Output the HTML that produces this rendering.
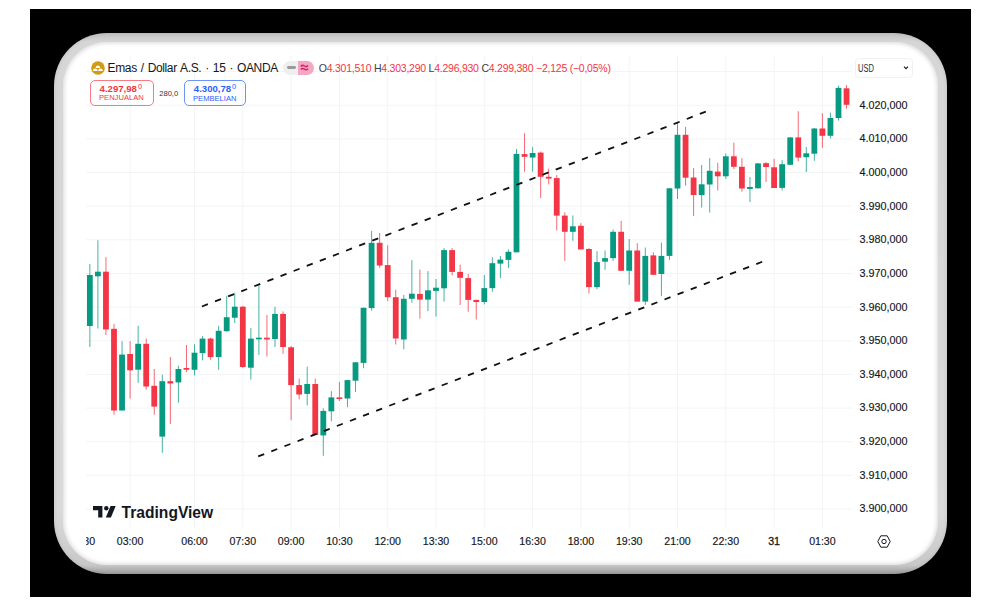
<!DOCTYPE html>
<html><head><meta charset="utf-8"><title>Emas / Dollar A.S.</title><style>
html,body{margin:0;padding:0;width:1000px;height:606px;overflow:hidden;background:#fff;font-family:"Liberation Sans",sans-serif;}
#blk{position:absolute;left:30px;top:9px;width:941px;height:588px;background:#000;}
#frame{position:absolute;left:54px;top:33px;width:893px;height:541px;border-radius:53px;background:linear-gradient(180deg,#c2c2c2 0px,#d6d6d6 9px,#dadada 480px,#c8c8c8 532px,#9c9c9c 541px);box-shadow:inset 0 0 4px rgba(0,0,0,0.10);}
#inner{position:absolute;left:9px;top:9px;width:875px;height:523px;border-radius:44px;background:#fff;box-shadow:inset 0 0 4px 1px rgba(216,216,216,1);}
#chart{position:absolute;left:0;top:0;}
.leg{position:absolute;white-space:nowrap;}
</style></head><body>
<div id="blk"></div>
<div id="frame"><div id="inner"></div></div>
<div id="chart"><svg width="1000" height="606" viewBox="0 0 1000 606" font-family="Liberation Sans, sans-serif">
<defs><clipPath id="tclip"><rect x="86.2" y="520" width="780" height="40"/></clipPath></defs>
<g stroke="#f3f4f6" stroke-width="1"><line x1="130.10" y1="55.6" x2="130.10" y2="529"/><line x1="194.50" y1="55.6" x2="194.50" y2="529"/><line x1="242.80" y1="55.6" x2="242.80" y2="529"/><line x1="291.10" y1="55.6" x2="291.10" y2="529"/><line x1="339.40" y1="55.6" x2="339.40" y2="529"/><line x1="387.70" y1="55.6" x2="387.70" y2="529"/><line x1="436.00" y1="55.6" x2="436.00" y2="529"/><line x1="484.30" y1="55.6" x2="484.30" y2="529"/><line x1="532.60" y1="55.6" x2="532.60" y2="529"/><line x1="580.90" y1="55.6" x2="580.90" y2="529"/><line x1="629.20" y1="55.6" x2="629.20" y2="529"/><line x1="677.50" y1="55.6" x2="677.50" y2="529"/><line x1="725.80" y1="55.6" x2="725.80" y2="529"/><line x1="774.10" y1="55.6" x2="774.10" y2="529"/><line x1="822.40" y1="55.6" x2="822.40" y2="529"/><line x1="86" y1="71.55" x2="852" y2="71.55"/><line x1="86" y1="105.20" x2="852" y2="105.20"/><line x1="86" y1="138.85" x2="852" y2="138.85"/><line x1="86" y1="172.50" x2="852" y2="172.50"/><line x1="86" y1="206.15" x2="852" y2="206.15"/><line x1="86" y1="239.80" x2="852" y2="239.80"/><line x1="86" y1="273.45" x2="852" y2="273.45"/><line x1="86" y1="307.10" x2="852" y2="307.10"/><line x1="86" y1="340.75" x2="852" y2="340.75"/><line x1="86" y1="374.40" x2="852" y2="374.40"/><line x1="86" y1="408.05" x2="852" y2="408.05"/><line x1="86" y1="441.70" x2="852" y2="441.70"/><line x1="86" y1="475.35" x2="852" y2="475.35"/><line x1="86" y1="509.00" x2="852" y2="509.00"/></g><g><rect x="89.35" y="264.00" width="1" height="83.00" fill="#089981" opacity="0.75"/><rect x="86.95" y="275.00" width="5.8" height="51.00" fill="#089981"/><rect x="97.40" y="240.30" width="1" height="88.20" fill="#089981" opacity="0.75"/><rect x="95.00" y="271.70" width="5.8" height="4.60" fill="#089981"/><rect x="105.45" y="257.20" width="1" height="77.80" fill="#f23645" opacity="0.75"/><rect x="103.05" y="271.70" width="5.8" height="57.80" fill="#f23645"/><rect x="113.50" y="324.00" width="1" height="90.70" fill="#f23645" opacity="0.75"/><rect x="111.10" y="328.80" width="5.8" height="81.70" fill="#f23645"/><rect x="121.55" y="341.20" width="1" height="69.30" fill="#089981" opacity="0.75"/><rect x="119.15" y="354.60" width="5.8" height="55.90" fill="#089981"/><rect x="129.60" y="341.20" width="1" height="57.30" fill="#f23645" opacity="0.75"/><rect x="127.20" y="354.00" width="5.8" height="16.30" fill="#f23645"/><rect x="137.65" y="325.80" width="1" height="57.00" fill="#089981" opacity="0.75"/><rect x="135.25" y="343.80" width="5.8" height="25.90" fill="#089981"/><rect x="145.70" y="338.50" width="1" height="51.20" fill="#f23645" opacity="0.75"/><rect x="143.30" y="343.80" width="5.8" height="42.70" fill="#f23645"/><rect x="153.75" y="369.00" width="1" height="45.70" fill="#f23645" opacity="0.75"/><rect x="151.35" y="385.80" width="5.8" height="20.80" fill="#f23645"/><rect x="161.80" y="374.70" width="1" height="78.10" fill="#089981" opacity="0.75"/><rect x="159.40" y="381.20" width="5.8" height="55.40" fill="#089981"/><rect x="169.85" y="357.00" width="1" height="67.00" fill="#f23645" opacity="0.75"/><rect x="167.45" y="381.20" width="5.8" height="2.30" fill="#f23645"/><rect x="177.90" y="365.70" width="1" height="37.00" fill="#089981" opacity="0.75"/><rect x="175.50" y="369.00" width="5.8" height="13.40" fill="#089981"/><rect x="185.95" y="345.00" width="1" height="27.00" fill="#f23645" opacity="0.75"/><rect x="183.55" y="368.00" width="5.8" height="1.70" fill="#f23645"/><rect x="194.00" y="344.30" width="1" height="31.00" fill="#089981" opacity="0.75"/><rect x="191.60" y="352.70" width="5.8" height="17.10" fill="#089981"/><rect x="202.05" y="336.20" width="1" height="24.20" fill="#089981" opacity="0.75"/><rect x="199.65" y="338.60" width="5.8" height="14.50" fill="#089981"/><rect x="210.10" y="337.50" width="1" height="22.30" fill="#f23645" opacity="0.75"/><rect x="207.70" y="338.60" width="5.8" height="18.50" fill="#f23645"/><rect x="218.15" y="325.90" width="1" height="43.90" fill="#089981" opacity="0.75"/><rect x="215.75" y="330.80" width="5.8" height="26.30" fill="#089981"/><rect x="226.20" y="295.80" width="1" height="35.90" fill="#089981" opacity="0.75"/><rect x="223.80" y="317.20" width="5.8" height="14.00" fill="#089981"/><rect x="234.25" y="292.70" width="1" height="30.30" fill="#089981" opacity="0.75"/><rect x="231.85" y="306.70" width="5.8" height="11.00" fill="#089981"/><rect x="242.30" y="306.00" width="1" height="62.00" fill="#f23645" opacity="0.75"/><rect x="239.90" y="306.70" width="5.8" height="60.30" fill="#f23645"/><rect x="250.35" y="328.10" width="1" height="51.50" fill="#089981" opacity="0.75"/><rect x="247.95" y="338.60" width="5.8" height="29.10" fill="#089981"/><rect x="258.40" y="284.50" width="1" height="70.40" fill="#089981" opacity="0.75"/><rect x="256.00" y="337.70" width="5.8" height="1.60" fill="#089981"/><rect x="266.45" y="315.00" width="1" height="41.50" fill="#f23645" opacity="0.75"/><rect x="264.05" y="337.70" width="5.8" height="1.80" fill="#f23645"/><rect x="274.50" y="306.70" width="1" height="40.30" fill="#089981" opacity="0.75"/><rect x="272.10" y="313.90" width="5.8" height="25.10" fill="#089981"/><rect x="282.55" y="311.40" width="1" height="42.50" fill="#f23645" opacity="0.75"/><rect x="280.15" y="313.90" width="5.8" height="33.10" fill="#f23645"/><rect x="290.60" y="346.00" width="1" height="74.20" fill="#f23645" opacity="0.75"/><rect x="288.20" y="347.30" width="5.8" height="37.80" fill="#f23645"/><rect x="298.65" y="378.60" width="1" height="20.80" fill="#f23645" opacity="0.75"/><rect x="296.25" y="385.10" width="5.8" height="9.40" fill="#f23645"/><rect x="306.70" y="366.70" width="1" height="38.60" fill="#089981" opacity="0.75"/><rect x="304.30" y="384.00" width="5.8" height="9.90" fill="#089981"/><rect x="314.75" y="378.60" width="1" height="56.40" fill="#f23645" opacity="0.75"/><rect x="312.35" y="384.00" width="5.8" height="51.00" fill="#f23645"/><rect x="322.80" y="408.30" width="1" height="47.50" fill="#089981" opacity="0.75"/><rect x="320.40" y="410.90" width="5.8" height="24.50" fill="#089981"/><rect x="330.85" y="391.10" width="1" height="30.10" fill="#089981" opacity="0.75"/><rect x="328.45" y="397.40" width="5.8" height="13.90" fill="#089981"/><rect x="338.90" y="382.00" width="1" height="19.00" fill="#f23645" opacity="0.75"/><rect x="336.50" y="397.40" width="5.8" height="1.60" fill="#f23645"/><rect x="346.95" y="380.00" width="1" height="27.20" fill="#089981" opacity="0.75"/><rect x="344.55" y="380.10" width="5.8" height="18.40" fill="#089981"/><rect x="355.00" y="362.00" width="1" height="30.00" fill="#089981" opacity="0.75"/><rect x="352.60" y="362.30" width="5.8" height="18.40" fill="#089981"/><rect x="363.05" y="307.50" width="1" height="60.70" fill="#089981" opacity="0.75"/><rect x="360.65" y="307.80" width="5.8" height="55.10" fill="#089981"/><rect x="371.10" y="230.90" width="1" height="79.80" fill="#089981" opacity="0.75"/><rect x="368.70" y="242.80" width="5.8" height="65.30" fill="#089981"/><rect x="379.15" y="232.90" width="1" height="35.00" fill="#f23645" opacity="0.75"/><rect x="376.75" y="242.80" width="5.8" height="22.70" fill="#f23645"/><rect x="387.20" y="245.30" width="1" height="55.90" fill="#f23645" opacity="0.75"/><rect x="384.80" y="265.10" width="5.8" height="32.10" fill="#f23645"/><rect x="395.25" y="289.70" width="1" height="54.80" fill="#f23645" opacity="0.75"/><rect x="392.85" y="297.20" width="5.8" height="41.30" fill="#f23645"/><rect x="403.30" y="294.90" width="1" height="54.50" fill="#089981" opacity="0.75"/><rect x="400.90" y="298.80" width="5.8" height="40.70" fill="#089981"/><rect x="411.35" y="260.20" width="1" height="42.60" fill="#089981" opacity="0.75"/><rect x="408.95" y="293.70" width="5.8" height="5.10" fill="#089981"/><rect x="419.40" y="269.50" width="1" height="49.10" fill="#f23645" opacity="0.75"/><rect x="417.00" y="293.90" width="5.8" height="5.70" fill="#f23645"/><rect x="427.45" y="271.10" width="1" height="40.00" fill="#089981" opacity="0.75"/><rect x="425.05" y="290.30" width="5.8" height="9.30" fill="#089981"/><rect x="435.50" y="279.00" width="1" height="37.60" fill="#089981" opacity="0.75"/><rect x="433.10" y="287.70" width="5.8" height="3.20" fill="#089981"/><rect x="443.55" y="248.10" width="1" height="53.50" fill="#089981" opacity="0.75"/><rect x="441.15" y="250.10" width="5.8" height="38.20" fill="#089981"/><rect x="451.60" y="248.10" width="1" height="27.30" fill="#f23645" opacity="0.75"/><rect x="449.20" y="250.10" width="5.8" height="21.80" fill="#f23645"/><rect x="459.65" y="264.60" width="1" height="40.50" fill="#f23645" opacity="0.75"/><rect x="457.25" y="271.90" width="5.8" height="5.90" fill="#f23645"/><rect x="467.70" y="273.90" width="1" height="37.80" fill="#f23645" opacity="0.75"/><rect x="465.30" y="278.10" width="5.8" height="21.80" fill="#f23645"/><rect x="475.75" y="299.90" width="1" height="19.60" fill="#f23645" opacity="0.75"/><rect x="473.35" y="299.90" width="5.8" height="2.10" fill="#f23645"/><rect x="483.80" y="275.00" width="1" height="29.40" fill="#089981" opacity="0.75"/><rect x="481.40" y="288.10" width="5.8" height="13.90" fill="#089981"/><rect x="491.85" y="257.20" width="1" height="34.50" fill="#089981" opacity="0.75"/><rect x="489.45" y="263.20" width="5.8" height="24.90" fill="#089981"/><rect x="499.90" y="255.90" width="1" height="22.20" fill="#089981" opacity="0.75"/><rect x="497.50" y="259.60" width="5.8" height="4.00" fill="#089981"/><rect x="507.95" y="249.40" width="1" height="18.70" fill="#089981" opacity="0.75"/><rect x="505.55" y="251.80" width="5.8" height="8.10" fill="#089981"/><rect x="516.00" y="149.00" width="1" height="103.30" fill="#089981" opacity="0.75"/><rect x="513.60" y="153.90" width="5.8" height="98.40" fill="#089981"/><rect x="524.05" y="133.20" width="1" height="38.50" fill="#f23645" opacity="0.75"/><rect x="521.65" y="154.10" width="5.8" height="2.70" fill="#f23645"/><rect x="532.10" y="147.20" width="1" height="24.50" fill="#089981" opacity="0.75"/><rect x="529.70" y="153.00" width="5.8" height="4.50" fill="#089981"/><rect x="540.15" y="151.50" width="1" height="46.50" fill="#f23645" opacity="0.75"/><rect x="537.75" y="152.60" width="5.8" height="24.20" fill="#f23645"/><rect x="548.20" y="168.60" width="1" height="15.80" fill="#f23645" opacity="0.75"/><rect x="545.80" y="176.80" width="5.8" height="1.80" fill="#f23645"/><rect x="556.25" y="175.00" width="1" height="55.50" fill="#f23645" opacity="0.75"/><rect x="553.85" y="178.10" width="5.8" height="37.50" fill="#f23645"/><rect x="564.30" y="212.30" width="1" height="48.50" fill="#f23645" opacity="0.75"/><rect x="561.90" y="215.60" width="5.8" height="16.20" fill="#f23645"/><rect x="572.35" y="215.40" width="1" height="25.40" fill="#089981" opacity="0.75"/><rect x="569.95" y="226.30" width="5.8" height="5.50" fill="#089981"/><rect x="580.40" y="223.20" width="1" height="26.20" fill="#f23645" opacity="0.75"/><rect x="578.00" y="225.80" width="5.8" height="23.60" fill="#f23645"/><rect x="588.45" y="248.10" width="1" height="45.40" fill="#f23645" opacity="0.75"/><rect x="586.05" y="249.00" width="5.8" height="38.10" fill="#f23645"/><rect x="596.50" y="251.20" width="1" height="38.10" fill="#089981" opacity="0.75"/><rect x="594.10" y="262.10" width="5.8" height="25.00" fill="#089981"/><rect x="604.55" y="250.50" width="1" height="19.40" fill="#089981" opacity="0.75"/><rect x="602.15" y="258.10" width="5.8" height="3.60" fill="#089981"/><rect x="612.60" y="229.40" width="1" height="31.40" fill="#089981" opacity="0.75"/><rect x="610.20" y="231.80" width="5.8" height="26.30" fill="#089981"/><rect x="620.65" y="220.90" width="1" height="49.90" fill="#f23645" opacity="0.75"/><rect x="618.25" y="231.80" width="5.8" height="39.00" fill="#f23645"/><rect x="628.70" y="239.00" width="1" height="45.90" fill="#089981" opacity="0.75"/><rect x="626.30" y="250.50" width="5.8" height="20.30" fill="#089981"/><rect x="636.75" y="243.20" width="1" height="58.40" fill="#f23645" opacity="0.75"/><rect x="634.35" y="250.50" width="5.8" height="51.10" fill="#f23645"/><rect x="644.80" y="247.50" width="1" height="57.40" fill="#089981" opacity="0.75"/><rect x="642.40" y="255.90" width="5.8" height="45.70" fill="#089981"/><rect x="652.85" y="252.30" width="1" height="22.50" fill="#f23645" opacity="0.75"/><rect x="650.45" y="255.40" width="5.8" height="19.40" fill="#f23645"/><rect x="660.90" y="242.60" width="1" height="53.60" fill="#089981" opacity="0.75"/><rect x="658.50" y="255.90" width="5.8" height="18.10" fill="#089981"/><rect x="668.95" y="188.00" width="1" height="71.90" fill="#089981" opacity="0.75"/><rect x="666.55" y="188.30" width="5.8" height="67.60" fill="#089981"/><rect x="677.00" y="122.10" width="1" height="76.90" fill="#089981" opacity="0.75"/><rect x="674.60" y="134.80" width="5.8" height="53.70" fill="#089981"/><rect x="685.05" y="126.90" width="1" height="58.80" fill="#f23645" opacity="0.75"/><rect x="682.65" y="134.80" width="5.8" height="42.90" fill="#f23645"/><rect x="693.10" y="168.10" width="1" height="48.00" fill="#f23645" opacity="0.75"/><rect x="690.70" y="177.50" width="5.8" height="17.50" fill="#f23645"/><rect x="701.15" y="165.00" width="1" height="42.50" fill="#089981" opacity="0.75"/><rect x="698.75" y="184.30" width="5.8" height="10.70" fill="#089981"/><rect x="709.20" y="158.10" width="1" height="54.40" fill="#089981" opacity="0.75"/><rect x="706.80" y="170.80" width="5.8" height="13.70" fill="#089981"/><rect x="717.25" y="162.70" width="1" height="27.80" fill="#f23645" opacity="0.75"/><rect x="714.85" y="171.60" width="5.8" height="4.70" fill="#f23645"/><rect x="725.30" y="153.50" width="1" height="25.50" fill="#089981" opacity="0.75"/><rect x="722.90" y="156.30" width="5.8" height="20.00" fill="#089981"/><rect x="733.35" y="142.60" width="1" height="26.50" fill="#f23645" opacity="0.75"/><rect x="730.95" y="156.30" width="5.8" height="10.50" fill="#f23645"/><rect x="741.40" y="158.10" width="1" height="33.60" fill="#f23645" opacity="0.75"/><rect x="739.00" y="166.80" width="5.8" height="21.70" fill="#f23645"/><rect x="749.45" y="177.00" width="1" height="25.00" fill="#089981" opacity="0.75"/><rect x="747.05" y="187.00" width="5.8" height="1.90" fill="#089981"/><rect x="757.50" y="163.00" width="1" height="25.30" fill="#089981" opacity="0.75"/><rect x="755.10" y="163.40" width="5.8" height="24.90" fill="#089981"/><rect x="765.55" y="162.00" width="1" height="20.00" fill="#f23645" opacity="0.75"/><rect x="763.15" y="163.20" width="5.8" height="3.80" fill="#f23645"/><rect x="773.60" y="158.80" width="1" height="29.20" fill="#f23645" opacity="0.75"/><rect x="771.20" y="167.30" width="5.8" height="20.70" fill="#f23645"/><rect x="781.65" y="160.20" width="1" height="30.30" fill="#089981" opacity="0.75"/><rect x="779.25" y="164.20" width="5.8" height="23.70" fill="#089981"/><rect x="789.70" y="137.00" width="1" height="28.00" fill="#089981" opacity="0.75"/><rect x="787.30" y="137.40" width="5.8" height="27.40" fill="#089981"/><rect x="797.75" y="111.30" width="1" height="49.90" fill="#f23645" opacity="0.75"/><rect x="795.35" y="137.40" width="5.8" height="20.20" fill="#f23645"/><rect x="805.80" y="146.90" width="1" height="25.20" fill="#089981" opacity="0.75"/><rect x="803.40" y="153.30" width="5.8" height="3.90" fill="#089981"/><rect x="813.85" y="128.00" width="1" height="32.80" fill="#089981" opacity="0.75"/><rect x="811.45" y="128.50" width="5.8" height="25.20" fill="#089981"/><rect x="821.90" y="113.30" width="1" height="34.40" fill="#f23645" opacity="0.75"/><rect x="819.50" y="128.50" width="5.8" height="7.30" fill="#f23645"/><rect x="829.95" y="112.70" width="1" height="25.70" fill="#089981" opacity="0.75"/><rect x="827.55" y="118.00" width="5.8" height="17.80" fill="#089981"/><rect x="838.00" y="85.90" width="1" height="34.70" fill="#089981" opacity="0.75"/><rect x="835.60" y="87.90" width="5.8" height="30.10" fill="#089981"/><rect x="846.05" y="85.00" width="1" height="23.70" fill="#f23645" opacity="0.75"/><rect x="843.65" y="88.30" width="5.8" height="16.50" fill="#f23645"/></g><line x1="201.9" y1="306.5" x2="706.2" y2="111.5" stroke="#111" stroke-width="1.8" stroke-dasharray="6.4 7.65"/><line x1="258.2" y1="456.4" x2="762.6" y2="261.6" stroke="#111" stroke-width="1.8" stroke-dasharray="6.4 7.65"/><g font-size="10.8" fill="#131722" stroke="#131722" stroke-width="0.15"><text x="859.6" y="108.60">4.020,000</text><text x="859.6" y="142.25">4.010,000</text><text x="859.6" y="175.90">4.000,000</text><text x="859.6" y="209.55">3.990,000</text><text x="859.6" y="243.20">3.980,000</text><text x="859.6" y="276.85">3.970,000</text><text x="859.6" y="310.50">3.960,000</text><text x="859.6" y="344.15">3.950,000</text><text x="859.6" y="377.80">3.940,000</text><text x="859.6" y="411.45">3.930,000</text><text x="859.6" y="445.10">3.920,000</text><text x="859.6" y="478.75">3.910,000</text><text x="859.6" y="512.40">3.900,000</text></g><g font-size="10.6" fill="#131722" stroke="#131722" stroke-width="0.15" clip-path="url(#tclip)"><text x="130.10" y="544.8" text-anchor="middle">03:00</text><text x="194.50" y="544.8" text-anchor="middle">06:00</text><text x="242.80" y="544.8" text-anchor="middle">07:30</text><text x="291.10" y="544.8" text-anchor="middle">09:00</text><text x="339.40" y="544.8" text-anchor="middle">10:30</text><text x="387.70" y="544.8" text-anchor="middle">12:00</text><text x="436.00" y="544.8" text-anchor="middle">13:30</text><text x="484.30" y="544.8" text-anchor="middle">15:00</text><text x="532.60" y="544.8" text-anchor="middle">16:30</text><text x="580.90" y="544.8" text-anchor="middle">18:00</text><text x="629.20" y="544.8" text-anchor="middle">19:30</text><text x="677.50" y="544.8" text-anchor="middle">21:00</text><text x="725.80" y="544.8" text-anchor="middle">22:30</text><text x="774.10" y="544.8" text-anchor="middle" stroke="#131722" stroke-width="0.3">31</text><text x="822.40" y="544.8" text-anchor="middle">01:30</text><text x="81.80" y="544.8" text-anchor="middle">01:30</text></g>
</svg></div>
<div id="legend">
 <svg class="leg" style="left:90.8px;top:61px" width="14" height="14" viewBox="0 0 14 14"><circle cx="7" cy="7" r="6.8" fill="#d49a12"/><path d="M4.6 6.9 Q4.6 4.4 6.9 4.4 Q9.2 4.4 9.2 6.9 Z M2 10 Q2 7.4 4.3 7.4 Q6.6 7.4 6.6 10 Z M7.2 10 Q7.2 7.4 9.5 7.4 Q11.8 7.4 11.8 10 Z" fill="#fff"/></svg>
 <div class="leg" style="left:107.6px;top:61.2px;font-size:12px;letter-spacing:-0.37px;word-spacing:1px;color:#131722">Emas / Dollar A.S. · 15 · OANDA</div>
 <div class="leg" style="left:282.8px;top:61px;width:30.8px;height:13.8px;border-radius:7px;background:linear-gradient(90deg,#efefef 50%,#f4a7c3 50%)"></div>
 <div class="leg" style="left:287.4px;top:66.2px;width:8.2px;height:2.8px;border-radius:1.4px;background:#9a9a9a"></div>
 <svg class="leg" style="left:300px;top:63px" width="9" height="9" viewBox="0 0 9 9"><path d="M0.8 3.4 Q2.4 1.6 4.4 3 Q6.4 4.4 8 2.6 M0.8 6.6 Q2.4 4.8 4.4 6.2 Q6.4 7.6 8 5.8" stroke="#e0206b" stroke-width="1.5" fill="none"/></svg>
 <div class="leg" style="left:318.8px;top:61.7px;font-size:10.5px;letter-spacing:-0.24px;color:#3a3d46">O<span style="color:#f23645">4.301,510</span> H<span style="color:#f23645">4.303,290</span> L<span style="color:#f23645">4.296,930</span> C<span style="color:#f23645">4.299,380</span> <span style="color:#f23645">−2,125 (−0,05%)</span></div>
 <div class="leg" style="left:90px;top:79.6px;width:61.6px;height:24px;border:1px solid #f77a84;border-radius:5px;"></div>
 <div class="leg" style="left:99.6px;top:82.6px;font-size:9.6px;font-weight:bold;color:#f23645">4.297,98</div>
 <div class="leg" style="left:138px;top:82px;font-size:7.4px;color:#f23645">0</div>
 <div class="leg" style="left:99px;top:93.3px;font-size:7.6px;color:#f23645">PENJUALAN</div>
 <div class="leg" style="left:159.2px;top:88.8px;font-size:7.6px;color:#333">280,0</div>
 <div class="leg" style="left:184.3px;top:79.8px;width:59.4px;height:24px;border:1px solid #6d93f5;border-radius:5px;"></div>
 <div class="leg" style="left:193.8px;top:82.8px;font-size:9.6px;font-weight:bold;color:#2962ff">4.300,78</div>
 <div class="leg" style="left:232px;top:82.2px;font-size:7.4px;color:#2962ff">0</div>
 <div class="leg" style="left:193px;top:93.8px;font-size:7.6px;color:#2962ff">PEMBELIAN</div>
 <div class="leg" style="left:855.4px;top:58.4px;width:55.6px;height:17.8px;border:1px solid #f1f1f1;border-radius:4px;"></div>
 <svg class="leg" style="left:857px;top:60px" width="20" height="14"><text x="1" y="12.2" font-family="Liberation Sans" font-size="10" fill="#2a2e39" textLength="16" lengthAdjust="spacingAndGlyphs">USD</text></svg>
 <svg class="leg" style="left:902px;top:65px" width="8" height="6" viewBox="0 0 8 6"><path d="M2 1.6 L4 3.6 L6 1.6" stroke="#131722" stroke-width="1.1" fill="none"/></svg>
 <svg class="leg" style="left:92.9px;top:506.2px" width="23" height="12" viewBox="0 0 23 12"><path d="M0 0 H9.4 V11.4 H5.2 V4.3 H0 Z" fill="#131722"/><circle cx="13.3" cy="2.2" r="2.2" fill="#131722"/><path d="M17.6 0 H22.7 L17.9 11.4 H12.8 Z" fill="#131722"/></svg>
 <div class="leg" style="left:121.6px;top:503.6px;font-size:15.6px;font-weight:bold;color:#131722">TradingView</div>
 <svg class="leg" style="left:877px;top:535px" width="14" height="13" viewBox="0 0 14 13"><path d="M3.8 0.8 H10.2 L13.2 6.5 L10.2 12.2 H3.8 L0.8 6.5 Z" stroke="#131722" stroke-width="1" fill="none"/><circle cx="7" cy="6.5" r="2.2" stroke="#131722" stroke-width="1" fill="none"/></svg>
</div>
</body></html>
